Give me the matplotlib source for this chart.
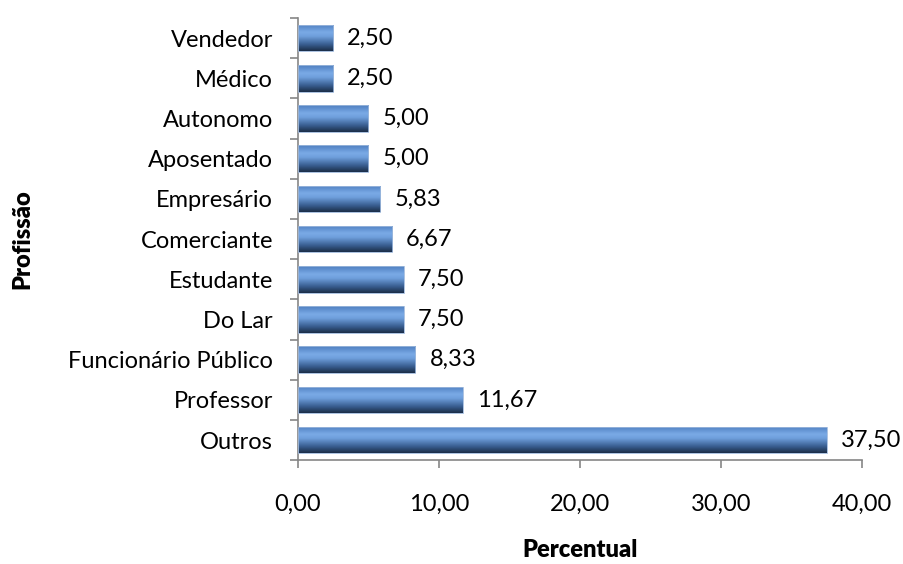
import matplotlib
matplotlib.use("Agg")
import matplotlib.pyplot as plt
import numpy as np
from matplotlib.colors import LinearSegmentedColormap

categories = ["Outros", "Professor", "Funcionário Público", "Do Lar", "Estudante",
              "Comerciante", "Empresário", "Aposentado", "Autonomo", "Médico", "Vendedor"]
values = [37.50, 11.67, 8.33, 7.50, 7.50, 6.67, 5.83, 5.00, 5.00, 2.50, 2.50]
xticks = [0, 10, 20, 30, 40]

plt.rcParams['font.family'] = ['Lato', 'DejaVu Sans']
FS = 17

fig = plt.figure(figsize=(9.04, 5.64), dpi=100)
ax = fig.add_axes([0.3296, 0.184, 0.6239, 0.784])

y = np.arange(len(categories))
bars = ax.barh(y, values, height=0.66, color='none', edgecolor='#9db8dc', linewidth=0.6, zorder=3)

cmap = LinearSegmentedColormap.from_list("g", [
    (0.0, "#4f7fc0"), (0.3, "#7aaae6"), (0.45, "#6f9fdc"), (0.75, "#3a5f92"), (1.0, "#1b2e48")])
grad = np.linspace(0, 1, 100).reshape(-1, 1)
for b in bars:
    x0, y0 = b.get_x(), b.get_y()
    w, h = b.get_width(), b.get_height()
    im = ax.imshow(grad, cmap=cmap, aspect='auto', extent=[x0, x0 + w, y0, y0 + h],
                   origin='upper', zorder=2, interpolation='bilinear')
    im.set_clip_path(b)

for yi, v in zip(y, values):
    ax.text(v + 1.0, yi, f"{v:.2f}".replace('.', ','), va='center', ha='left', fontsize=FS, color='black')

ax.set_xlim(0, 40)
ax.set_ylim(-0.5, len(categories) - 0.5)
ax.set_xticks(xticks)
ax.set_xticklabels([f"{t:.2f}".replace('.', ',') for t in xticks], fontsize=FS)
ax.set_yticks(y)
ax.set_yticklabels(categories, fontsize=FS)
ax.set_yticks(np.arange(-0.5, len(categories), 1), minor=True)
ax.tick_params(axis='y', which='major', length=0, pad=18)
ax.tick_params(axis='y', which='minor', length=6, color='#868686', width=1.2)
ax.tick_params(axis='x', which='major', length=6, color='#868686', width=1.2, pad=18)

for s in ['top', 'right']:
    ax.spines[s].set_visible(False)
for s in ['left', 'bottom']:
    ax.spines[s].set_color('#868686')
    ax.spines[s].set_linewidth(1.2)

xl = ax.set_xlabel("Percentual", fontsize=FS, fontweight='heavy')
xl.set_va('center')
ax.xaxis.set_label_coords(0.5, -0.204)
ax.set_ylabel("Profissão", fontsize=FS, fontweight='heavy')
ax.yaxis.set_label_coords(-0.47, 0.5)

fig.savefig("out.png", dpi=100)
